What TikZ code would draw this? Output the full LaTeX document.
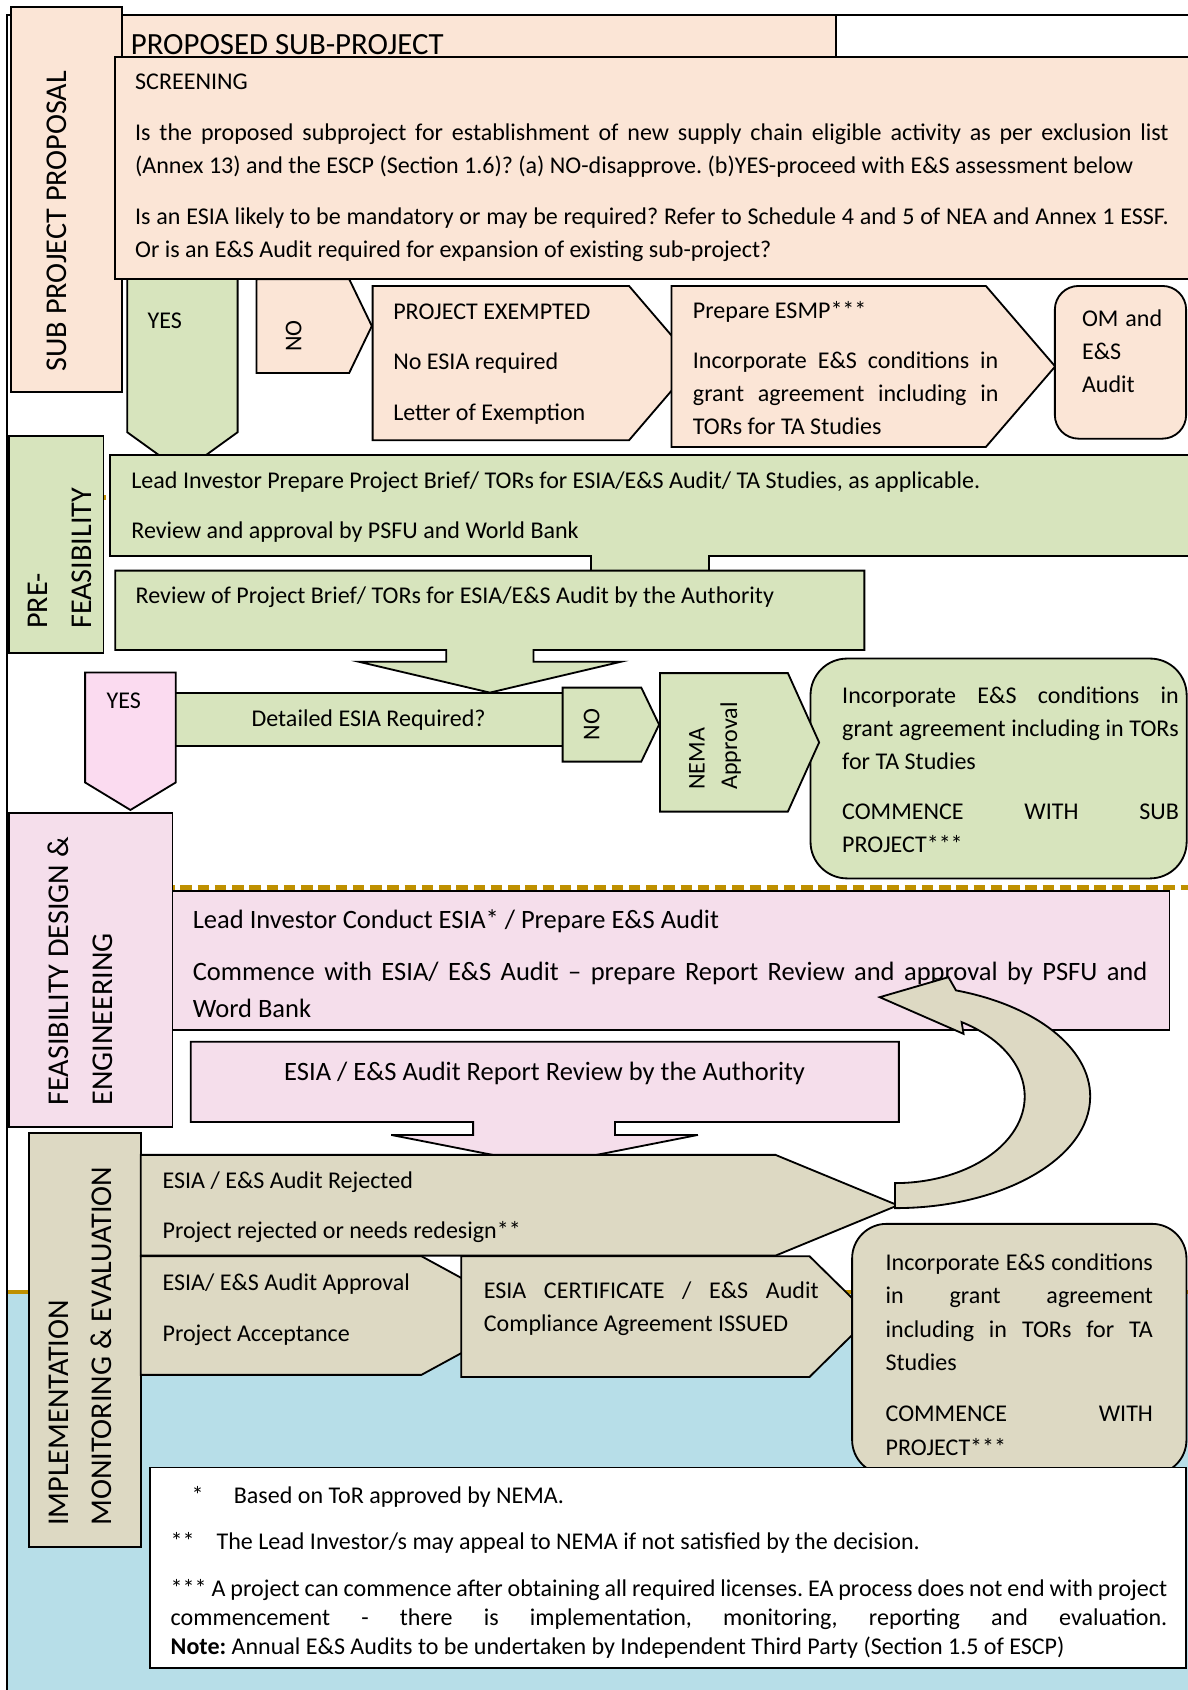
\documentclass[tikz,border=0pt]{standalone}
\usepackage{fontspec}
\setmainfont{Carlito}
\definecolor{peach}{HTML}{FBE5D6}
\definecolor{leaf}{HTML}{D7E4BD}
\definecolor{rose}{HTML}{F5DEEB}
\definecolor{roseyes}{HTML}{FBDBF0}
\definecolor{sand}{HTML}{DDD9C3}
\definecolor{sky}{HTML}{B7DEE8}
\definecolor{gold}{HTML}{BF9000}
\newcommand{\paragap}{\par\vspace{8.2pt}}
\frenchspacing

\begin{document}
\begin{tikzpicture}[x=0.5pt,y=-0.5pt,
  outline/.style={draw=black,line width=0.85pt,line join=miter},
  peachbox/.style={outline,fill=peach},
  leafbox/.style={outline,fill=leaf},
  rosebox/.style={outline,fill=rose},
  sandbox/.style={outline,fill=sand},
  body/.style={inner sep=0pt,anchor=base west,align=justify,
    font=\fontsize{11.15}{15.3}\selectfont},
  flush/.style={body,align=flush left},
  plain/.style={inner sep=0pt,anchor=base west,font=\fontsize{11.15}{15.3}\selectfont},
  centred/.style={inner sep=0pt,anchor=base,font=\fontsize{11.15}{15.3}\selectfont},
  upright/.style={inner sep=0pt,rotate=90,font=\fontsize{11.15}{13}\selectfont},
  sidelabel/.style={inner sep=0pt,anchor=base west,rotate=90,text width=200pt,
    align=flush left,font=\fontsize{14}{20.4}\selectfont},
  phase/.style={gold,line width=2pt},
]
\useasboundingbox (0,0) rectangle (1102,1568);

% page frame, phase separators and the blue implementation band
\draw[outline,fill=white] (6.5,14) rectangle (1120,1590);
\fill[sky] (7.4,1199) rectangle (1120,1590);
\draw[phase] (7.4,1199) -- (1120,1199);
\draw[phase,dash pattern=on 5.3pt off 2.7pt] (7.4,461.5) -- (1120,461.5);
\draw[phase,dash pattern=on 5.3pt off 2.7pt] (7.4,823.5) -- (1120,823.5);

% ---------- sub project proposal ----------
\draw[peachbox] (10,6.5) rectangle (113,364);
\node[sidelabel] (lblsub) at (62,345) {SUB PROJECT PROPOSAL};
\draw[peachbox] (113,14) rectangle (776,60);
\draw[leafbox] (118,250) -- (220.5,250) -- (220.5,401) -- (169.3,438) -- (118,401) -- cycle;
\draw[peachbox] (238,259) -- (324,259) -- (345,302.5) -- (324,346) -- (238,346) -- cycle;
\draw[peachbox] (106.5,52.6) rectangle (1120,259);
\node[inner sep=0pt,anchor=base west,font=\fontsize{14.3}{17}\selectfont] (proposed) at (121,51) {PROPOSED SUB-PROJECT};
\node[body,text width=479.5pt] (screening) at (125,83.5) {SCREENING\paragap Is the proposed subproject for establishment of new supply chain eligible activity as per exclusion list\linebreak (Annex 13) and the ESCP (Section 1.6)? (a) NO-disapprove. (b)YES-proceed with E\&S assessment below\paragap Is an ESIA likely to be mandatory or may be required? Refer to Schedule 4 and 5 of NEA and Annex 1 ESSF.\linebreak Or is an E\&S Audit required for expansion of existing sub-project?};
\node[plain] (yes1) at (136.6,305) {YES};
\node[upright] (no1) at (272.5,311.7) {NO};

\draw[peachbox] (345.7,265.3) -- (583.6,265.3) -- (645,336.9) -- (583.6,408.5) -- (345.7,408.5) -- cycle;
\node[body,text width=125pt] (exempt) at (364.5,296.2) {PROJECT EXEMPTED\paragap No ESIA required\paragap Letter of Exemption};
\draw[peachbox] (623,265.3) -- (914.7,265.3) -- (979,340) -- (914.7,414.7) -- (623,414.7) -- cycle;
\node[body,text width=141.75pt] (esmp) at (642.5,295.3) {Prepare ESMP***\paragap Incorporate E\&S conditions in\linebreak grant agreement including in\linebreak TORs for TA Studies};
\draw[peachbox,rounded corners=11pt] (978.7,265.3) rectangle (1100.5,407);
\node[body,text width=37.2pt] (omaudit) at (1003.5,303) {OM and\linebreak E\&S\newline Audit};

% ---------- pre-feasibility ----------
\draw[leafbox] (8,404.5) rectangle (96,605.5);
\node[sidelabel] (lblpre) at (44.4,583.8) {PRE-\\FEASIBILITY};
\draw[leafbox] (102.2,422) -- (1120,422) -- (1120,516) -- (658,516) -- (658,545)
  -- (548,545) -- (548,516) -- (102.2,516) -- cycle;
\node[flush,text width=490pt] (brief) at (121.5,453) {Lead Investor Prepare Project Brief/ TORs for ESIA/E\&S Audit/ TA Studies, as applicable.\paragap Review and approval by PSFU and World Bank};
\draw[leafbox] (107,529.4) -- (802,529.4) -- (802,603) -- (495,603) -- (495,614) -- (576,614)
  -- (454.5,642.6) -- (333,614) -- (414,614) -- (414,603) -- (107,603) -- cycle;
\node[plain] (reviewtor) at (125.5,559.7) {Review of Project Brief/ TORs for ESIA/E\&S Audit by the Authority};
\draw[leafbox] (162.6,642.6) rectangle (522,692.3);
\node[centred] (detailed) at (342,674) {Detailed ESIA Required?};
\draw[outline,fill=roseyes] (79,624) -- (163,624) -- (163,726) -- (121,751.5) -- (79,726) -- cycle;
\node[plain] (yes2) at (98.5,657.7) {YES};
\draw[leafbox] (522,638) -- (595,638) -- (611.5,672.3) -- (595,706.6) -- (522,706.6) -- cycle;
\node[upright] (no2) at (549,672.3) {NO};
\draw[leafbox,rounded corners=17pt] (752,611) rectangle (1101,815);
\node[body,text width=156.2pt] (commence1) at (781,652.5) {Incorporate E\&S conditions in\linebreak grant agreement including in TORs\linebreak for TA Studies\paragap COMMENCE WITH SUB\linebreak PROJECT***};
\draw[leafbox] (612.3,624.5) -- (731,624.5) -- (760,688.8) -- (731,753) -- (612.3,753) -- cycle;
\node[sidelabel,text width=100pt,font=\fontsize{11.15}{15}\selectfont] (nema) at (653.8,733) {NEMA\\Approval};

% ---------- feasibility design & engineering ----------
\draw[rosebox] (8,754) rectangle (160,1045.6);
\node[sidelabel] (lblfeas) at (63.9,1026) {FEASIBILITY DESIGN \&\\ENGINEERING};
\draw[rosebox] (160,827) rectangle (1085,956);
\node[body,text width=442.85pt,font=\fontsize{12.3}{17.4}\selectfont] (conduct) at (178.5,861) {Lead Investor Conduct ESIA* / Prepare E\&S Audit\par\vspace{6.9pt}Commence with ESIA/ E\&S Audit -- prepare Report Review and approval by PSFU and\linebreak Word Bank};
\draw[rosebox] (177,966.6) -- (834,966.6) -- (834,1041) -- (570.6,1041) -- (570.6,1053) -- (647.5,1053)
  -- (505.3,1081) -- (363,1053) -- (439,1053) -- (439,1041) -- (177,1041) -- cycle;
\node[centred,font=\fontsize{12.3}{17}\selectfont] (reportreview) at (505.3,1002.5) {ESIA / E\&S Audit Report Review by the Authority};

% ---------- implementation, monitoring & evaluation ----------
\draw[sandbox] (26.6,1051) rectangle (130.6,1435);
\node[sidelabel,font=\fontsize{14}{20}\selectfont] (lblimpl) at (63.9,1416) {IMPLEMENTATION\\MONITORING \& EVALUATION};
\draw[sandbox] (130.6,1071.5) -- (719.5,1071.5) -- (833,1118.3) -- (719.5,1165) -- (130.6,1165) -- cycle;
\node[flush,text width=300pt] (rejected) at (150.5,1102.4) {ESIA / E\&S Audit Rejected\paragap Project rejected or needs redesign**};
\draw[sandbox] (130.6,1165.5) -- (391,1165.5) -- (492,1220.6) -- (391,1275.6) -- (130.6,1275.6) -- cycle;
\node[flush,text width=200pt] (approval) at (150.5,1197.3) {ESIA/ E\&S Audit Approval\paragap Project Acceptance};
\draw[sandbox] (428,1165.5) -- (751,1165.5) -- (808,1221.5) -- (751,1277.6) -- (428,1277.6) -- cycle;
\node[body,text width=155.35pt] (certificate) at (448.5,1204.4) {ESIA CERTIFICATE / E\&S Audit\linebreak Compliance Agreement ISSUED};
\draw[sandbox,rounded corners=16pt] (790.6,1135.5) rectangle (1100.8,1368);
\node[body,text width=124pt,font=\fontsize{11.15}{15.5}\selectfont] (commence2) at (821.3,1178.8) {Incorporate E\&S conditions\linebreak in grant agreement\linebreak including in TORs for TA\linebreak Studies\paragap COMMENCE WITH\linebreak PROJECT***};

% curved return arrow from the rejection back to the ESIA step
\draw[sandbox] (830.4,1120.9)
  arc[start angle=-90,end angle=71.8,x radius=90.55pt,y radius=51.8pt]
  -- (880,906.6) -- (816.2,925.2) -- (894,959.2) -- (892.2,948.3)
  arc[start angle=59.1,end angle=-90,x radius=60.15pt,y radius=40.2pt] -- cycle;

% footnotes
\draw[outline,fill=white] (139,1361.5) rectangle (1100,1547.5);
\node[body,text width=462.3pt,font=\fontsize{11.15}{13.4}\selectfont] (notes) at (158,1394.6) {\makebox[29.3pt][l]{\hspace*{9.75pt}*}Based on ToR approved by NEMA.\paragap \makebox[21.3pt][l]{**}The Lead Investor/s may appeal to NEMA if not satisfied by the decision.\paragap *** A project can commence after obtaining all required licenses. EA process does not end with project\linebreak commencement - there is implementation, monitoring, reporting and evaluation.\linebreak \textbf{Note:} Annual E\&S Audits to be undertaken by Independent Third Party (Section 1.5 of ESCP)};
\end{tikzpicture}
\end{document}
